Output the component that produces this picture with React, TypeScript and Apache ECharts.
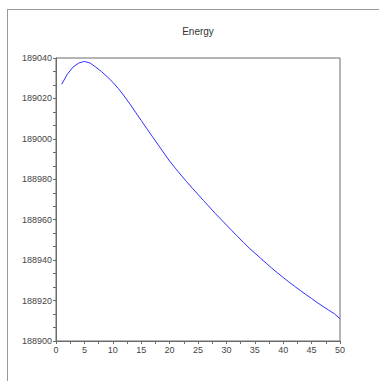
import React, { useEffect, useRef } from "react";
import * as echarts from "echarts";

const titleText = "Energy";
const xValues = [
  1, 2, 3, 4, 5, 6, 7, 8, 9, 10, 11, 12, 13, 14, 15, 16, 17, 18, 19, 20, 21, 22, 23, 24, 25,
  26, 27, 28, 29, 30, 31, 32, 33, 34, 35, 36, 37, 38, 39, 40, 41, 42, 43, 44, 45, 46, 47, 48, 49, 50,
];
const energy = [
  189027, 189032, 189035.5, 189037.5, 189038.3, 189037.5, 189035.5, 189033.3, 189030.8, 189028,
  189024.8, 189021.2, 189017.3, 189013.2, 189009.1, 189005, 189001, 188997, 188993, 188989,
  188985.5, 188982.1, 188978.8, 188975.6, 188972.5, 188969.4, 188966.3, 188963.2, 188960.3, 188957.4,
  188954.5, 188951.6, 188948.8, 188946, 188943.5, 188941, 188938.5, 188936, 188933.7, 188931.4,
  188929.2, 188927.1, 188925, 188923, 188921, 188919, 188917.1, 188915.3, 188913.5, 188911,
];

export default function App() {
  const ref = useRef<HTMLDivElement>(null);
  useEffect(() => {
    document.body.style.margin = "0";
    if (!ref.current) return;
    const chart = echarts.init(ref.current, null, { renderer: "svg" });
    const axisColor = "#6b6b6b";
    const labelStyle = { color: "#444", fontSize: 9, fontFamily: "Liberation Sans" };
    chart.setOption({
      animation: false,
      backgroundColor: "#fff",
      title: {
        text: titleText,
        left: 193,
        textAlign: "center",
        top: 21,
        textStyle: { color: "#333", fontSize: 10, fontWeight: "normal", fontFamily: "Liberation Sans" },
      },
      graphic: [
        { type: "line", shape: { x1: 7, y1: 9.5, x2: 379, y2: 9.5 }, style: { stroke: "#999", lineWidth: 1 } },
        { type: "line", shape: { x1: 7.5, y1: 9, x2: 7.5, y2: 381 }, style: { stroke: "#999", lineWidth: 1 } },
      ],
      grid: {
        left: 56,
        top: 58,
        width: 284,
        height: 283,
        show: true,
        borderColor: axisColor,
        borderWidth: 1,
        backgroundColor: "transparent",
      },
      xAxis: {
        type: "value",
        min: 0,
        max: 50,
        interval: 5,
        axisLine: { show: true, lineStyle: { color: axisColor } },
        axisTick: { show: true, inside: false, length: 3, lineStyle: { color: axisColor } },
        minorTick: { show: true, splitNumber: 2, length: 3, lineStyle: { color: axisColor } },
        splitLine: { show: false },
        axisLabel: { ...labelStyle, margin: 4 },
      },
      yAxis: {
        type: "value",
        min: 188900,
        max: 189040,
        interval: 20,
        axisLine: { show: true, lineStyle: { color: axisColor } },
        axisTick: { show: true, inside: false, length: 3, lineStyle: { color: axisColor } },
        minorTick: { show: true, splitNumber: 3, length: 3, lineStyle: { color: axisColor } },
        splitLine: { show: false },
        axisLabel: { ...labelStyle, margin: 4, formatter: (v: number) => String(v) },
      },
      series: [
        {
          type: "line",
          data: xValues.map((x, i) => [x, energy[i]]),
          showSymbol: false,
          lineStyle: { color: "#3030ff", width: 1 },
          itemStyle: { color: "#3030ff" },
        },
      ],
    });
    return () => chart.dispose();
  }, []);
  return <div ref={ref} style={{ width: 379, height: 381 }} />;
}
